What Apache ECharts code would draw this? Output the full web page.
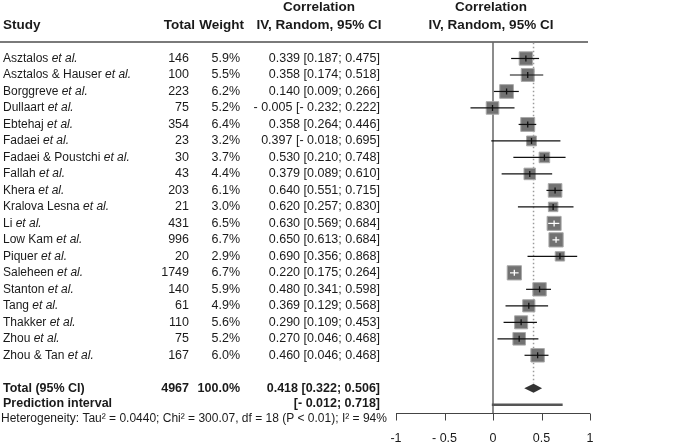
<!DOCTYPE html>
<html><head><meta charset="utf-8">
<script src="https://cdn.jsdelivr.net/npm/echarts@6/dist/echarts.min.js"></script>
<style>html,body{margin:0;padding:0;background:#fff}#c{width:681px;height:446px}</style>
</head><body><div id="c"></div>
<script>
// ---------- data ----------
const studyNames = ['Asztalos','Asztalos & Hauser','Borggreve','Dullaart','Ebtehaj','Fadaei','Fadaei & Poustchi','Fallah','Khera','Kralova Lesna','Li','Low Kam','Piquer','Saleheen','Stanton','Tang','Thakker','Zhou','Zhou & Tan'];
const totals = [146,100,223,75,354,23,30,43,203,21,431,996,20,1749,140,61,110,75,167];
const weights = [5.9,5.5,6.2,5.2,6.4,3.2,3.7,4.4,6.1,3.0,6.5,6.7,2.9,6.7,5.9,4.9,5.6,5.2,6.0];
const estimates = [0.339,0.358,0.140,-0.005,0.358,0.397,0.530,0.379,0.640,0.620,0.630,0.650,0.690,0.220,0.480,0.369,0.290,0.270,0.460];
const lowers = [0.187,0.174,0.009,-0.232,0.264,-0.018,0.210,0.089,0.551,0.257,0.569,0.613,0.356,0.175,0.341,0.129,0.109,0.046,0.325];
const uppers = [0.475,0.518,0.266,0.222,0.446,0.695,0.748,0.610,0.715,0.830,0.684,0.684,0.868,0.264,0.598,0.568,0.453,0.468,0.572];
const ciLabels = ['0.339 [0.187; 0.475]','0.358 [0.174; 0.518]','0.140 [0.009; 0.266]','- 0.005 [- 0.232; 0.222]','0.358 [0.264; 0.446]','0.397 [- 0.018; 0.695]','0.530 [0.210; 0.748]','0.379 [0.089; 0.610]','0.640 [0.551; 0.715]','0.620 [0.257; 0.830]','0.630 [0.569; 0.684]','0.650 [0.613; 0.684]','0.690 [0.356; 0.868]','0.220 [0.175; 0.264]','0.480 [0.341; 0.598]','0.369 [0.129; 0.568]','0.290 [0.109; 0.453]','0.270 [0.046; 0.468]','0.460 [0.046; 0.468]'];
const pooledTotal = 4967;
const pooledWeight = '100.0%';
const pooled = [0.418, 0.322, 0.506];       // estimate, lower, upper
const prediction = [-0.012, 0.718];
const pooledLabel = '0.418 [0.322; 0.506]';
const predictionLabel = '[- 0.012; 0.718]';
const heterogeneity = 'Heterogeneity: Tau² = 0.0440; Chi² = 300.07, df = 18 (P < 0.01); I² = 94%';
const xTicks = [-1, -0.5, 0, 0.5, 1];
const xTickLabels = ['-1', '- 0.5', '0', '0.5', '1'];

// ---------- layout ----------
const FONT = '"Liberation Sans", Arial, sans-serif';
const TXT = '#1a1a1a';
const ROW_TOTAL = 20, ROW_PRED_TEXT = 20.9, ROW_PRED = 21, ROW_HET = 21.85;
const COL_NAME = 3, COL_TOTAL = 189, COL_WEIGHT = 240, COL_CI = 380;
const Y_MAX = 21.5;

const chart = echarts.init(document.getElementById('c'), null, {renderer: 'canvas'});

function txt(x, y, text, align, extra) {
  return Object.assign({type: 'text', x: x, y: y, silent: true,
    style: Object.assign({text: text, align: align, verticalAlign: 'middle',
      fontSize: 12.5, fontFamily: FONT, fill: TXT}, extra || {})});
}
const H = {fontWeight: 'bold', fontSize: 13.5};

const studyData = studyNames.map((n, i) => [i, estimates[i], lowers[i], uppers[i], weights[i]]);

chart.setOption({
  animation: false,
  backgroundColor: '#fff',
  grid: {left: 396, top: 42, width: 194, height: 371, containLabel: false},
  xAxis: {
    type: 'value', min: -1, max: 1, interval: 0.5,
    axisLine: {show: false},
    axisTick: {show: false},
    axisLabel: {fontSize: 12.5, fontFamily: FONT, color: TXT, margin: 19,
      formatter: v => { const k = xTicks.findIndex(t => Math.abs(t - v) < 1e-9); return k >= 0 ? xTickLabels[k] : ''; }},
    splitLine: {show: false}
  },
  yAxis: {type: 'value', inverse: true, min: -1, max: Y_MAX, show: false},
  graphic: [
    {type: 'line', shape: {x1: 0, y1: 42, x2: 588, y2: 42}, style: {stroke: '#7a7a7a', lineWidth: 2}, silent: true},
    txt(COL_NAME, 25, 'Study', 'left', H),
    txt(195, 25, 'Total', 'right', H),
    txt(244, 25, 'Weight', 'right', H),
    txt(319, 7.5, 'Correlation', 'center', H),
    txt(319, 25, 'IV, Random, 95% CI', 'center', H),
    txt(491, 7.5, 'Correlation', 'center', H),
    txt(491, 25, 'IV, Random, 95% CI', 'center', H)
  ],
  series: [
    { // x axis line and ticks, placed through the x scale
      type: 'custom', data: [[xTicks[0], xTicks[xTicks.length - 1]]], silent: true, z: 2, clip: false,
      renderItem: (params, api) => {
        const a = api.coord([api.value(0), Y_MAX]);
        const b = api.coord([api.value(1), Y_MAX]);
        const y = Math.round(a[1]) + 0.5;
        const kids = [{type: 'line', shape: {x1: a[0], y1: y, x2: b[0], y2: y}, style: {stroke: '#444', lineWidth: 1}}];
        xTicks.forEach(t => {
          const p = api.coord([t, Y_MAX]);
          const x = Math.round(p[0]) + 0.5;
          kids.push({type: 'line', shape: {x1: x, y1: y, x2: x, y2: y + 7}, style: {stroke: '#444', lineWidth: 1}});
        });
        return {type: 'group', children: kids};
      }
    },
    { // solid no-effect line at 0
      type: 'line', data: [[0, -1], [0, Y_MAX]], symbol: 'none', silent: true, z: 1,
      lineStyle: {color: '#666', width: 1.5}
    },
    { // dotted pooled-estimate line
      type: 'line', data: [[pooled[0], -0.95], [pooled[0], ROW_TOTAL - 0.3]], symbol: 'none', silent: true, z: 1,
      lineStyle: {color: '#9a9a9a', width: 1.5, type: [1.5, 2.5]}
    },
    { // prediction interval
      type: 'line', data: [[prediction[0], ROW_PRED], [prediction[1], ROW_PRED]], symbol: 'none', silent: true, z: 2,
      lineStyle: {color: '#555', width: 2.5}
    },
    { // study squares and CIs
      type: 'custom', data: studyData, silent: true, z: 3, clip: false,
      renderItem: (params, api) => {
        const i = api.value(0);
        const e = api.coord([api.value(1), i]);
        const lo = api.coord([api.value(2), i]);
        const hi = api.coord([api.value(3), i]);
        const s = 5.5 * Math.sqrt(api.value(4));
        const inside = (hi[0] - lo[0]) <= s;
        const c = inside ? '#ffffff' : '#111111';
        return {type: 'group', children: [
          {type: 'rect', shape: {x: e[0] - s / 2, y: e[1] - s / 2, width: s, height: s},
           style: {fill: '#727272', stroke: '#a9a9a9', lineWidth: 1}},
          {type: 'line', shape: {x1: lo[0], y1: e[1], x2: hi[0], y2: e[1]}, style: {stroke: c, lineWidth: 1.2}},
          {type: 'line', shape: {x1: e[0], y1: e[1] - 3, x2: e[0], y2: e[1] + 3}, style: {stroke: c, lineWidth: 1.3}}
        ]};
      }
    },
    { // pooled diamond
      type: 'custom', data: [[pooled[0], pooled[1], pooled[2], ROW_TOTAL]], silent: true, z: 3, clip: false,
      renderItem: (params, api) => {
        const r = api.value(3);
        const e = api.coord([api.value(0), r]);
        const lo = api.coord([api.value(1), r]);
        const hi = api.coord([api.value(2), r]);
        const h = 4.5;
        return {type: 'polygon', shape: {points: [[lo[0], lo[1]], [e[0], e[1] - h], [hi[0], hi[1]], [e[0], e[1] + h]]},
          style: {fill: '#333'}};
      }
    },
    { // table text for study rows
      type: 'custom', data: studyNames.map((n, i) => [0, i]), silent: true, z: 5, clip: false,
      renderItem: (params, api) => {
        const i = params.dataIndex;
        const y = api.coord([0, api.value(1)])[1];
        return {type: 'group', children: [
          txt(COL_NAME, y, '{n|' + studyNames[i] + ' }{i|et al.}', 'left', {
            rich: {n: {fontSize: 12, fontFamily: FONT, fill: TXT}, i: {fontSize: 12, fontFamily: FONT, fontStyle: 'italic', fill: TXT}}}),
          txt(COL_TOTAL, y, String(totals[i]), 'right'),
          txt(COL_WEIGHT, y, weights[i].toFixed(1) + '%', 'right'),
          txt(COL_CI, y, ciLabels[i], 'right')
        ]};
      }
    },
    { // summary text rows
      type: 'custom', data: [[0, ROW_TOTAL], [0, ROW_PRED_TEXT], [0, ROW_HET]], silent: true, z: 5, clip: false,
      renderItem: (params, api) => {
        const y = api.coord([0, api.value(1)])[1];
        const b = {fontWeight: 'bold', fontSize: 12.5};
        if (params.dataIndex === 0) {
          return {type: 'group', children: [
            txt(COL_NAME, y, 'Total (95% CI)', 'left', b),
            txt(COL_TOTAL, y, String(pooledTotal), 'right', b),
            txt(COL_WEIGHT, y, pooledWeight, 'right', b),
            txt(COL_CI, y, pooledLabel, 'right', b)
          ]};
        } else if (params.dataIndex === 1) {
          return {type: 'group', children: [
            txt(COL_NAME, y, 'Prediction interval', 'left', b),
            txt(COL_CI, y, predictionLabel, 'right', b)
          ]};
        }
        return txt(COL_NAME - 2, y, heterogeneity, 'left', {fontSize: 12});
      }
    }
  ]
});
</script>
</body></html>
